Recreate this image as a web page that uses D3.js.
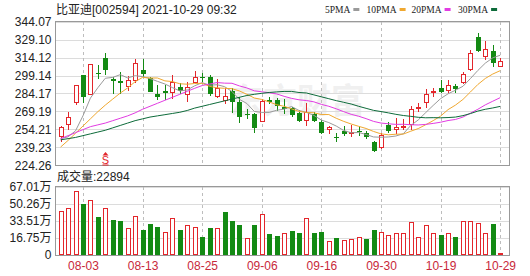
<!DOCTYPE html>
<html>
<head>
<meta charset="utf-8">
<script src="https://cdn.jsdelivr.net/npm/d3@7"></script>
<style>
  body { margin: 0; background: #fff; }
  text { font-family: "Liberation Sans", "Noto Sans CJK SC", sans-serif; }
</style>
</head>
<body>
<div id="chart"></div>
<script>
// trading days shown (2021)
const dates = ['07-29','07-30','08-02','08-03','08-04','08-05','08-06','08-09','08-10','08-11',
  '08-12','08-13','08-16','08-17','08-18','08-19','08-20','08-23','08-24','08-25',
  '08-26','08-27','08-30','08-31','09-01','09-02','09-03','09-06','09-07','09-08',
  '09-09','09-10','09-13','09-14','09-15','09-16','09-17','09-22','09-23','09-24',
  '09-27','09-28','09-29','09-30','10-08','10-11','10-12','10-13','10-14','10-15',
  '10-18','10-19','10-20','10-21','10-22','10-25','10-26','10-27','10-28','10-29']

const open  = [247.7,257.7,276.5,299.3,282.9,301.5,313.4,296.0,294.3,289.9,
  294.6,303.7,296.8,283.8,286.5,284.9,289.3,282.9,293.2,298.2,
  297.6,281.0,278.2,286.5,277.4,267.1,266.8,260.7,278.8,278.8,
  272.7,271.8,268.2,261.6,267.1,260.7,253.8,247.7,253.2,251.0,
  253.2,251.6,243.3,238.6,258.0,253.8,256.0,258.0,271.6,276.0,
  285.4,288.5,286.5,290.7,293.2,303.7,330.9,314.3,319.8,306.5]
const high  = [257.1,268.8,291.5,300.0,308.8,307.6,317.6,297.6,302.3,298.7,
  313.1,312.6,297.6,291.3,291.3,299.3,293.2,294.0,302.9,301.0,
  299.6,296.0,288.5,288.5,281.5,271.0,267.7,279.3,281.0,280.2,
  279.3,272.7,270.4,276.0,269.1,262.1,257.1,251.0,257.1,258.0,
  257.1,253.2,244.9,251.0,260.7,263.5,262.7,273.8,276.0,287.6,
  288.5,295.4,295.4,291.8,302.3,320.4,334.8,328.1,324.5,313.4]
const low   = [244.1,253.8,274.3,276.0,282.5,296.0,299.3,283.8,283.8,286.5,
  292.6,298.2,285.0,278.8,278.8,279.6,283.8,277.4,292.6,294.0,
  282.1,280.2,275.4,267.7,259.4,262.7,251.0,260.7,275.4,269.9,
  267.1,264.9,260.7,257.1,260.7,250.5,250.5,244.1,248.8,247.7,
  248.3,246.0,235.0,237.7,251.6,250.5,253.8,253.8,269.1,271.8,
  281.0,284.3,284.9,284.9,292.1,303.2,319.0,312.0,306.5,305.9]
const close = [256.6,264.3,291.0,281.0,308.4,300.4,303.7,294.3,292.6,295.1,
  309.3,300.4,285.7,281.0,284.3,294.0,286.5,289.9,298.2,297.3,
  283.5,288.5,282.1,277.4,264.9,266.3,255.2,278.2,277.4,273.8,
  271.0,266.3,261.6,269.1,261.6,251.6,255.8,246.9,250.5,252.4,
  252.4,247.7,236.6,249.6,253.2,256.6,257.1,271.0,272.7,283.8,
  286.2,285.7,291.3,287.6,300.4,318.1,319.8,321.7,309.3,311.5]

// moving averages
const ma5  = [246.5,248.0,253.0,265.5,280.3,289.0,296.9,297.6,299.9,297.2,
  299.0,298.3,296.6,294.3,292.1,289.1,286.3,287.1,290.6,293.2,
  291.1,291.5,289.9,285.8,279.3,275.8,269.2,268.4,268.4,270.2,
  271.1,273.3,270.0,268.4,265.9,262.0,259.9,257.0,253.3,251.4,
  251.6,250.0,247.9,247.7,247.9,248.7,250.6,257.5,262.1,268.2,
  274.2,279.9,283.9,286.9,290.2,296.6,303.4,309.5,313.9,316.1]
const ma10 = [239.5,245.0,251.0,257.0,263.0,269.0,274.5,279.5,284.5,288.8,
  294.0,297.6,297.1,297.1,294.7,294.1,292.3,291.9,292.5,292.7,
  290.1,288.9,288.5,288.2,286.3,283.5,280.4,279.2,277.1,274.8,
  273.5,271.3,269.2,268.4,268.1,266.6,266.6,263.5,260.9,258.7,
  256.8,255.0,252.5,250.5,249.7,250.2,250.3,252.7,254.9,258.1,
  261.5,265.3,270.7,274.5,279.2,285.4,291.7,296.7,300.4,303.2]
const ma20 = [246.5,249.0,251.5,254.0,256.5,258.0,259.5,261.5,263.5,265.5,
  268.0,271.0,273.5,276.0,278.5,281.0,283.5,286.0,288.5,290.8,
  292.1,293.3,292.8,292.7,290.5,288.8,286.4,285.6,284.8,283.8,
  281.8,280.1,278.9,278.3,277.2,275.1,273.5,271.4,269.0,266.8,
  265.2,263.2,260.9,259.5,258.9,258.4,258.5,258.1,257.9,258.4,
  259.2,260.2,261.6,262.5,264.5,267.8,271.0,274.7,277.7,280.7]
const ma30 = [245.5,246.5,247.5,249.0,250.5,252.0,253.5,255.5,257.5,259.5,
  261.5,263.0,264.5,265.5,266.5,267.5,268.5,270.0,272.0,273.5,
  275.0,276.5,278.0,279.5,281.0,282.5,283.5,284.3,285.0,285.5,
  285.9,285.9,285.0,284.6,283.0,281.4,279.8,278.2,276.8,275.4,
  273.5,271.8,270.1,269.1,268.0,266.8,265.8,265.1,264.3,263.9,
  264.0,263.9,264.1,264.5,265.7,267.4,269.5,271.0,272.1,273.4]

// volume in 万手, and whether the bar is drawn as an up (red) bar
const volume = [43.2,45.8,62.8,50.0,53.6,37.3,45.8,34.3,33.3,26.2,
  38.2,24.5,30.4,27.5,22.2,36.3,24.5,29.4,27.1,17.7,
  26.8,26.5,42.2,33.3,29.4,16.3,29.4,40.2,20.6,18.6,
  21.2,23.5,21.9,36.0,21.9,22.9,13.7,16.3,14.7,15.4,
  17.3,15.7,24.5,22.2,19.6,21.2,21.2,32.0,17.3,29.4,
  21.2,19.6,21.2,17.3,33.7,33.7,31.1,21.2,30.4,2.29]
const volUp = [1,1,1,0,1,0,1,0,0,1, 1,0,0,0,1,1,0,1,1,0,
  0,1,0,0,0,1,0,1,0,0, 1,0,0,1,0,0,1,0,1,1,
  1,0,0,1,1,1,1,1,1,1, 1,0,1,0,1,1,1,1,0,1]

const priceTicks = [344.07, 329.10, 314.12, 299.14, 284.17, 269.19, 254.21, 239.23, 224.26]
const volTicks   = [0, 16.75, 33.51, 50.26, 67.01]
const dateTicks  = ['08-03','08-13','08-25','09-06','09-16','09-30','10-19','10-29']

const maNames  = ['5PMA', '10PMA', '20PMA', '30PMA']
const maColors = ['#9a9a9a', '#f0a830', '#e23ce2', '#0d6b3a']
const title    = '比亚迪[002594] 2021-10-29 09:32'
const lastVol  = '22894'
const signalIdx = 6

const upColor = '#e3262b', downColor = '#138a13'

const W = 530, H = 276
const left = 55.5, right = 509.5
const pTop = 21.7, pBot = 165.3
const vTop = 186.5, vBot = 255

const svg = d3.select('#chart').append('svg').attr('width', W).attr('height', H)

const x  = d3.scaleLinear().domain([0, dates.length - 1]).range([60.6, 500.2])
const y  = d3.scaleLinear().domain([priceTicks[priceTicks.length - 1], priceTicks[0]]).range([pBot, pTop])
const yv = d3.scaleLinear().domain([0, volTicks[volTicks.length - 1]]).range([vBot, vTop])

// watermark
svg.append('text').attr('x', 297).attr('y', 113).attr('text-anchor', 'middle')
  .style('font-family', '"Noto Sans CJK SC"').style('font-size', '34px').style('font-weight', 'bold')
  .attr('fill', '#f0f0f0').text('东方财富')

// horizontal grid + y labels
const gy = svg.append('g').attr('transform', 'translate(' + left + ',0)')
  .call(d3.axisLeft(y).tickValues(priceTicks).tickFormat(d3.format('.2f')).tickSize(-(right - left)).tickPadding(4))
const gv = svg.append('g').attr('transform', 'translate(' + left + ',0)')
  .call(d3.axisLeft(yv).tickValues(volTicks).tickFormat(v => v === 0 ? '0' : v.toFixed(2) + '万').tickSize(-(right - left)).tickPadding(4))
for (const g of [gy, gv]) {
  g.select('.domain').remove()
  g.selectAll('line').attr('stroke', '#dcdcdc').attr('shape-rendering', 'crispEdges')
  g.selectAll('text').attr('fill', '#222').style('font-size', '12px')
}

// vertical dashed grid
const tickIdx = dateTicks.map(d => dates.indexOf(d))
for (const [t, b] of [[pTop, pBot], [vTop, vBot]]) {
  svg.append('g').selectAll('line').data(tickIdx).join('line')
    .attr('x1', i => Math.round(x(i)) + 0.5).attr('x2', i => Math.round(x(i)) + 0.5)
    .attr('y1', t).attr('y2', b)
    .attr('stroke', '#bdbdbd').attr('stroke-dasharray', '3,3').attr('shape-rendering', 'crispEdges')
}

// x labels
const gx = svg.append('g').attr('transform', 'translate(0,' + vBot + ')')
  .call(d3.axisBottom(x).tickValues(tickIdx).tickFormat(i => dates[i]).tickSize(0).tickPadding(6))
gx.select('.domain').remove()
gx.selectAll('text').attr('fill', '#c8283a').style('font-size', '12px')

// frames
for (const [t, b] of [[pTop, pBot], [vTop, vBot]]) {
  svg.append('rect').attr('x', left).attr('y', t).attr('width', right - left).attr('height', b - t)
    .attr('fill', 'none').attr('stroke', '#999').attr('shape-rendering', 'crispEdges')
}

// candles
const candles = svg.append('g').attr('shape-rendering', 'crispEdges')
dates.forEach((d, i) => {
  const cx = Math.round(x(i))
  const up = close[i] >= open[i]
  const col = up ? upColor : downColor
  candles.append('line').attr('x1', cx + 0.5).attr('x2', cx + 0.5)
    .attr('y1', y(high[i])).attr('y2', y(low[i])).attr('stroke', col)
  const top = Math.round(y(Math.max(open[i], close[i])))
  const bot = Math.round(y(Math.min(open[i], close[i])))
  if (up) {
    candles.append('rect').attr('x', cx - 1.5).attr('y', top + 0.5)
      .attr('width', 4).attr('height', Math.max(bot - top - 1, 1))
      .attr('fill', '#fff').attr('stroke', col)
  } else {
    candles.append('rect').attr('x', cx - 2).attr('y', top)
      .attr('width', 5).attr('height', Math.max(bot - top, 1)).attr('fill', col)
  }
})

// moving average lines
const mas = [ma5, ma10, ma20, ma30]
mas.forEach((m, k) => {
  svg.append('path').datum(m)
    .attr('fill', 'none').attr('stroke', maColors[k]).attr('stroke-width', 1)
    .attr('d', d3.line().x((d, i) => x(i)).y(d => y(d)))
})

// volume bars
const bars = svg.append('g').attr('shape-rendering', 'crispEdges')
volume.forEach((v, i) => {
  const cx = Math.round(x(i))
  const top = Math.round(yv(v))
  if (volUp[i]) {
    bars.append('rect').attr('x', cx - 1.5).attr('y', top + 0.5)
      .attr('width', 4).attr('height', Math.max(vBot - top - 1, 1))
      .attr('fill', '#fff').attr('stroke', upColor)
  } else {
    bars.append('rect').attr('x', cx - 2).attr('y', top)
      .attr('width', 5).attr('height', vBot - top).attr('fill', downColor)
  }
})

// signal marker
const sx = Math.round(x(signalIdx)) + 0.5
svg.append('path').attr('d', `M${sx - 3},155.5 L${sx},152 L${sx + 3},155.5 Z`).attr('fill', upColor)
svg.append('text').attr('x', sx).attr('y', 164).attr('text-anchor', 'middle')
  .attr('fill', upColor).style('font-size', '11px').text('S')
svg.append('line').attr('x1', sx - 3).attr('x2', sx + 3).attr('y1', 165).attr('y2', 165).attr('stroke', upColor)

// title
svg.append('text').attr('x', 56).attr('y', 14).attr('fill', '#222').style('font-size', '12px').text(title)

// legend
const legendX = [325, 366.5, 411.5, 458]
maNames.forEach((n, k) => {
  const t = svg.append('text').attr('x', legendX[k]).attr('y', 12.5).attr('fill', '#222')
    .style('font-family', '"Liberation Serif", serif').style('font-size', '9.5px').text(n)
  const w = t.node().getComputedTextLength()
  svg.append('rect').attr('x', legendX[k] + w + 3).attr('y', 8).attr('width', 6).attr('height', 3)
    .attr('fill', maColors[k])
})

// volume caption
svg.append('text').attr('x', 57).attr('y', 181).attr('fill', '#222').style('font-size', '12px')
  .text('成交量:' + lastVol)
</script>
</body>
</html>
